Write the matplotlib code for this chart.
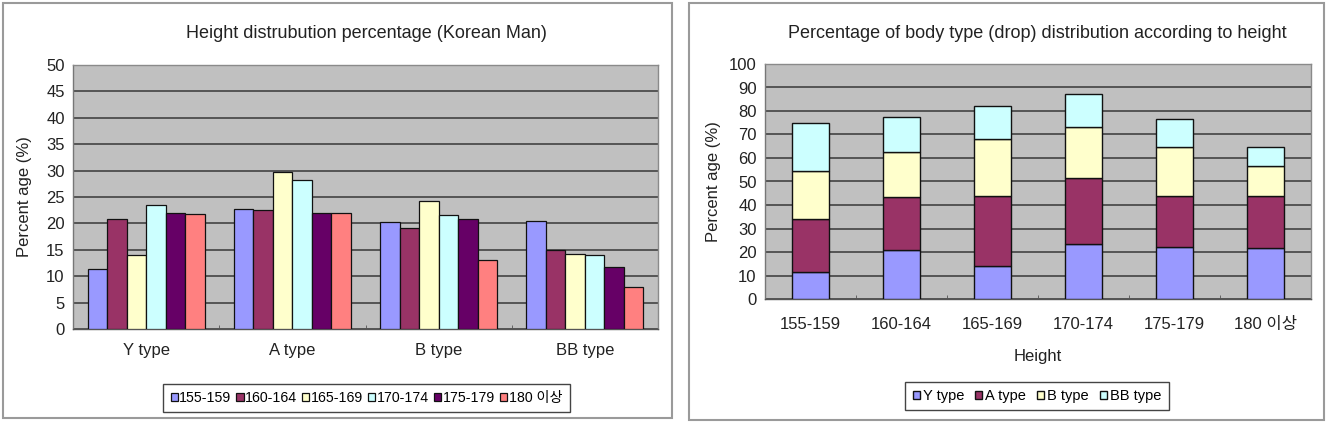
import matplotlib
matplotlib.use("Agg")
import matplotlib.pyplot as plt
from matplotlib.patches import Rectangle
import numpy as np

plt.rcParams['font.family'] = ['Liberation Sans', 'Noto Sans CJK KR', 'DejaVu Sans']

# ---- data ----
heights = ['155-159', '160-164', '165-169', '170-174', '175-179', '180 이상']
body_types = ['Y type', 'A type', 'B type', 'BB type']
y_type = [11.3, 20.8, 14.0, 23.5, 22.0, 21.8]
a_type = [22.8, 22.6, 29.7, 28.2, 22.0, 22.0]
b_type = [20.3, 19.2, 24.2, 21.6, 20.8, 13.0]
bb_type = [20.5, 15.0, 14.2, 14.0, 11.7, 7.9]

left_title = 'Height distrubution percentage (Korean Man)'
right_title = 'Percentage of body type (drop) distribution according to height'
ylabel = 'Percent age (%)'
right_xlabel = 'Height'

height_colors = ['#9999FF', '#993366', '#FFFFCC', '#CCFFFF', '#660066', '#FF8080']
type_colors = ['#9999FF', '#993366', '#FFFFCC', '#CCFFFF']

W, H = 1344, 423
fig = plt.figure(figsize=(W / 100, H / 100), dpi=100)
fig.patch.set_facecolor('white')

def fx(px):
    return px / W

def fy(py):
    return 1 - py / H

# panel frames
for (x0, y0, x1, y1) in [(3, 3, 672, 418), (689, 3, 1324, 420)]:
    fig.patches.append(Rectangle((fx(x0), fy(y1)), fx(x1 - x0), (y1 - y0) / H,
                                 transform=fig.transFigure, fill=False,
                                 edgecolor='#9a9a9a', linewidth=1.5))

txt = '#222222'
grid_c = '#555555'

def style_axes(ax):
    ax.set_facecolor('#C0C0C0')
    for s in ax.spines.values():
        s.set_color('#8a8a8a')
        s.set_linewidth(1.0)
    ax.spines['bottom'].set_color('#555555')
    ax.spines['left'].set_color('#777777')
    ax.yaxis.grid(True, color=grid_c, linewidth=1.4)
    ax.set_axisbelow(True)
    ax.tick_params(axis='y', length=0, pad=6, labelsize=12, colors=txt)
    ax.tick_params(axis='x', which='major', length=0, labelsize=12, colors=txt)
    ax.tick_params(axis='x', which='minor', length=3, direction='in', color='#555555')

# ---- left chart: grouped bars ----
axL = fig.add_axes([fx(73), fy(329), fx(658 - 73), (329 - 65) / H])
style_axes(axL)
data = np.array([y_type, a_type, b_type, bb_type])  # rows: types, cols: heights
nser = len(heights)
xg = np.arange(len(body_types))
bw = 1 / (nser + 1.5)
for i, h in enumerate(heights):
    offs = (i - (nser - 1) / 2) * bw
    axL.bar(xg + offs, data[:, i], width=bw, color=height_colors[i],
            edgecolor='#111111', linewidth=0.9, label=h, zorder=3)
axL.set_xlim(-0.5, len(body_types) - 0.5)
axL.set_ylim(0, 50)
axL.set_yticks(np.arange(0, 51, 5))
axL.set_xticks(xg)
axL.set_xticklabels(body_types)
axL.set_xticks(np.arange(0.5, len(body_types) - 0.5, 1), minor=True)
axL.tick_params(axis='x', which='major', pad=10)
axL.set_ylabel(ylabel, fontsize=12, color=txt, labelpad=10)
fig.text(fx(366), fy(33), left_title, ha='center', va='center', fontsize=13, color=txt)
legL = axL.legend(loc='center', bbox_to_anchor=(fx(366.5), fy(398)), bbox_transform=fig.transFigure,
                  ncol=6, fontsize=10.2, handlelength=0.5, handleheight=0.5, handletextpad=0.12,
                  columnspacing=0.35, fancybox=False, edgecolor='#444444', borderpad=0.5,
                  framealpha=1)
legL.get_frame().set_linewidth(1.0)

# ---- right chart: stacked bars ----
axR = fig.add_axes([fx(765), fy(299), fx(1311 - 765), (299 - 64) / H])
style_axes(axR)
xh = np.arange(len(heights))
bottom = np.zeros(len(heights))
for j, t in enumerate(body_types):
    vals = np.array(data[j])
    axR.bar(xh, vals, bottom=bottom, width=0.4, color=type_colors[j],
            edgecolor='#111111', linewidth=1.0, label=t, zorder=3)
    bottom = bottom + vals
axR.set_xlim(-0.5, len(heights) - 0.5)
axR.set_ylim(0, 100)
axR.set_yticks(np.arange(0, 101, 10))
axR.set_xticks(xh)
axR.set_xticklabels(heights)
axR.set_xticks(np.arange(0.5, len(heights) - 0.5, 1), minor=True)
axR.tick_params(axis='x', which='major', pad=13)
axR.set_ylabel(ylabel, fontsize=12, color=txt, labelpad=6)
axR.set_xlabel(right_xlabel, fontsize=12, color=txt, labelpad=12)
fig.text(fx(1037), fy(33), right_title, ha='center', va='center', fontsize=13, color=txt)
legR = axR.legend(loc='center', bbox_to_anchor=(fx(1037), fy(396)), bbox_transform=fig.transFigure,
                  ncol=4, fontsize=10.5, handlelength=0.5, handleheight=0.5, handletextpad=0.2,
                  columnspacing=0.75, fancybox=False, edgecolor='#444444', borderpad=0.5,
                  framealpha=1)
legR.get_frame().set_linewidth(1.0)

fig.savefig('out.png', dpi=100)
